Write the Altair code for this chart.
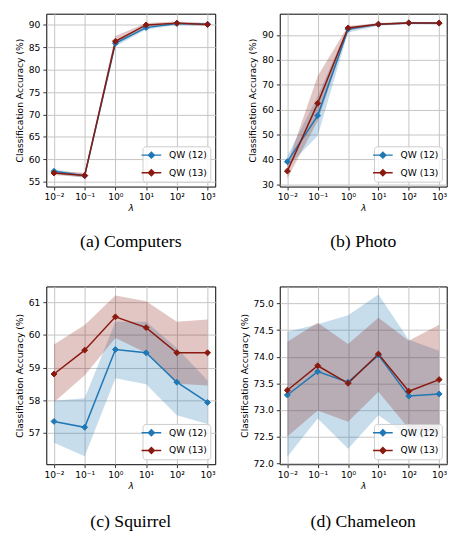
import altair as alt
import pandas as pd

lam = [0.01, 0.1, 1, 10, 100, 1000]
series = ["QW (12)", "QW (13)"]
colors = ["#1f77b4", "#8a1a10"]

# (a) Computers
comp_q12 = [57.35, 56.35, 85.9, 89.4, 90.3, 90.15]
comp_q12_lo = [56.8, 55.9, 85.2, 89.0, 90.0, 89.8]
comp_q12_hi = [57.8, 56.7, 86.6, 89.8, 90.6, 90.4]
comp_q13 = [56.95, 56.4, 86.35, 90.0, 90.4, 90.1]
comp_q13_lo = [56.5, 56.0, 85.8, 89.6, 90.1, 89.8]
comp_q13_hi = [57.4, 57.0, 87.5, 90.4, 90.75, 90.45]

# (b) Photo
photo_q12 = [39.1, 57.6, 92.3, 94.25, 94.8, 94.7]
photo_q12_lo = [37.0, 49.5, 91.0, 93.7, 94.3, 94.2]
photo_q12_hi = [41.3, 65.5, 93.3, 94.7, 95.2, 95.1]
photo_q13 = [35.3, 62.5, 92.8, 94.3, 94.8, 94.75]
photo_q13_lo = [32.3, 55.5, 91.8, 93.9, 94.4, 94.3]
photo_q13_hi = [38.3, 73.5, 93.6, 94.8, 95.3, 95.2]

# (c) Squirrel
sq_q12 = [57.35, 57.17, 59.55, 59.45, 58.55, 57.93]
sq_q12_lo = [56.70, 56.28, 58.67, 58.49, 57.54, 57.27]
sq_q12_hi = [57.98, 58.06, 60.40, 60.40, 59.60, 58.60]
sq_q13 = [58.80, 59.53, 60.55, 60.22, 59.45, 59.45]
sq_q13_lo = [57.94, 58.76, 59.90, 59.45, 58.50, 58.45]
sq_q13_hi = [59.70, 60.30, 61.20, 61.03, 60.40, 60.47]

# (d) Chameleon
ch_q12 = [73.28, 73.72, 73.52, 74.03, 73.26, 73.30]
ch_q12_lo = [72.12, 72.84, 72.27, 72.90, 72.50, 72.50]
ch_q12_hi = [74.47, 74.61, 74.78, 75.17, 74.32, 74.11]
ch_q13 = [73.37, 73.83, 73.50, 74.05, 73.35, 73.57]
ch_q13_lo = [72.50, 72.99, 72.78, 73.34, 72.65, 72.55]
ch_q13_hi = [74.28, 74.64, 74.24, 74.73, 74.30, 74.60]

captions = ["(a) Computers", "(b) Photo", "(c) Squirrel", "(d) Chameleon"]
y_domains = [[53.93, 92.5], [29.1, 98.5], [56.04, 61.48], [71.98, 75.32]]
y_ticks = [[55, 60, 65, 70, 75, 80, 85, 90],
           [30, 40, 50, 60, 70, 80, 90],
           [57, 58, 59, 60, 61],
           [72.0, 72.5, 73.0, 73.5, 74.0, 74.5, 75.0]]
y_formats = [".0f", ".0f", ".0f", ".1f"]

FONT = "DejaVu Sans"
FS = 9.3
label_expr = "'10' + ['\u207b\u00b2','\u207b\u00b9','\u2070','\u00b9','\u00b2','\u00b3'][round(log(datum.value)/LN10) + 2]"


def panel(i, data, width, height, cap_offset):
    rows = []
    for s, (m, lo, hi) in zip(series, data):
        for x, a, b, c in zip(lam, m, lo, hi):
            rows.append({"lam": x, "series": s, "acc": a, "lo": b, "hi": c})
    df = pd.DataFrame(rows)
    xenc = alt.X("lam:Q",
                 scale=alt.Scale(type="log", domain=[10 ** -2.25, 10 ** 3.25], nice=False),
                 axis=alt.Axis(values=lam, labelExpr=label_expr, title="λ",
                               titleFontStyle="italic", labelFlush=False, titlePadding=2))
    yaxis = alt.Axis(values=y_ticks[i], format=y_formats[i],
                     title="Classification Accuracy (%)", titlePadding=4)
    yscale = alt.Scale(domain=y_domains[i], nice=False, zero=False)
    cscale = alt.Scale(domain=series, range=colors)
    base = alt.Chart(df)
    layers = []
    for s, c in zip(series, colors):
        layers.append(base.transform_filter(alt.datum.series == s).mark_area(opacity=0.25, color=c).encode(
            x=xenc,
            y=alt.Y("lo:Q", scale=yscale, axis=yaxis),
            y2="hi:Q",
        ))
    for s, c in zip(series, colors):
        layers.append(base.transform_filter(alt.datum.series == s).mark_line(strokeWidth=1.5, color=c).encode(
            x=xenc,
            y=alt.Y("acc:Q", scale=yscale, axis=yaxis),
        ))
    leg = alt.Legend(title=None, orient="bottom-right", offset=5,
                     fillColor="rgba(255,255,255,0.8)", strokeColor="#cccccc",
                     cornerRadius=3, padding=3)
    layers.append(base.mark_point(shape="diamond", filled=True, size=36, opacity=1, strokeWidth=1).encode(
        x=xenc,
        y=alt.Y("acc:Q", scale=yscale, axis=yaxis),
        color=alt.Color("series:N", scale=cscale, legend=leg),
        stroke=alt.Stroke("series:N", scale=cscale, legend=leg),
    ))
    return alt.layer(*layers).properties(
        width=width, height=height,
        title=alt.TitleParams(captions[i], orient="bottom", font="Liberation Serif",
                              fontSize=18, fontWeight="normal", color="black",
                              anchor="middle", offset=cap_offset),
    )


pa = panel(0, [(comp_q12, comp_q12_lo, comp_q12_hi), (comp_q13, comp_q13_lo, comp_q13_hi)], 172, 176, 20)
pb = panel(1, [(photo_q12, photo_q12_lo, photo_q12_hi), (photo_q13, photo_q13_lo, photo_q13_hi)], 170, 176, 20)
pc = panel(2, [(sq_q12, sq_q12_lo, sq_q12_hi), (sq_q13, sq_q13_lo, sq_q13_hi)], 172, 181, 23)
pd_ = panel(3, [(ch_q12, ch_q12_lo, ch_q12_hi), (ch_q13, ch_q13_lo, ch_q13_hi)], 170, 181, 23)

chart = alt.concat(pa, pb, pc, pd_, columns=2, bounds="flush",
                   spacing={"row": 101.7, "column": 65.7}).resolve_scale(
    color="independent", stroke="independent"
).resolve_legend(
    color="independent", stroke="independent"
).properties(
    padding={"left": 7, "top": 0, "right": 0, "bottom": 0}
).configure_view(
    stroke="black", strokeWidth=1
).configure_axis(
    labelFont=FONT, labelFontSize=FS, labelColor="black",
    titleFont=FONT, titleFontSize=FS, titleFontWeight="normal", titleColor="black",
    tickColor="black", tickSize=3.5, tickWidth=0.8, labelPadding=3,
    domain=False, gridColor="#c4c4c4", gridWidth=1,
).configure_legend(
    labelFont=FONT, labelFontSize=FS, labelColor="black",
    symbolType="M-2,0H2M0,-0.6L0.6,0L0,0.6L-0.6,0Z", symbolSize=100, symbolStrokeWidth=1.5,
    labelOffset=12, padding=3, rowPadding=6,
    strokeColor="#cccccc", fillColor="rgba(255,255,255,0.8)", cornerRadius=3,
)

chart.save("out.html", embed_options={"renderer": "svg", "actions": False})
